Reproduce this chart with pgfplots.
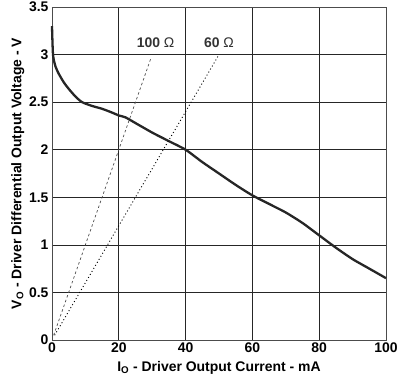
\documentclass[border=0pt]{standalone}
\usepackage{fontspec}
\setmainfont{Liberation Sans}
\usepackage{pgfplots}
\pgfplotsset{compat=1.18}
\begin{document}
\begin{tikzpicture}
\useasboundingbox (-52bp,-45bp) rectangle (355bp,340bp);
\begin{axis}[
  at={(0,0)}, anchor=south west,
  scale only axis, width=334bp, height=333bp,
  xmin=0, xmax=100, ymin=0, ymax=3.5,
  xtick={0,20,40,60,80,100},
  xticklabels={0,20,40,60,80,100},
  ytick={0,0.5,1,1.5,2,2.5,3,3.5},
  yticklabels={0,0.5,1,1.5,2,2.5,3,3.5},
  grid=major,
  major grid style={black!85, line width=0.7bp},
  major tick length=0pt,
  axis line style={black!70, line width=0.8bp},
  every tick label/.append style={font=\fontsize{14}{16}\selectfont\bfseries},
  xticklabel style={yshift=1bp},
  label style={font=\fontsize{14}{16}\selectfont\bfseries},
  xlabel={I\textsubscript{O} - Driver Output Current - mA},
  ylabel={V\textsubscript{O} - Driver Differential Output Voltage - V},
  xlabel style={yshift=-2bp},
  ylabel style={yshift=-2bp},
  clip=false,
]
\addplot[black!85, line width=2.3bp, smooth, tension=0.4] coordinates {
(0,3.3) (0.3,3.0) (1,2.88) (2,2.80) (3.5,2.71) (5,2.64) (7,2.56) (9,2.50) (12,2.46) (15,2.43) (18,2.39)
(20,2.36) (22,2.34) (25,2.28) (30,2.18) (35,2.09) (40,2.00) (45,1.87) (50,1.75) (55,1.63)
(60,1.52) (65,1.43) (70,1.34) (75,1.23) (80,1.10) (85,0.97) (90,0.85) (95,0.75) (100,0.65)
};
\addplot[black!70, line width=0.7bp, dash pattern=on 2.5bp off 2.5bp] coordinates {(0.5,0.05) (29.5,2.95)};
\addplot[black, line width=0.9bp, dash pattern=on 1bp off 2.5bp] coordinates {(0.8,0.05) (50,3.0)};
\node[font=\fontsize{14}{16}\selectfont\bfseries, text=black!80] at (axis cs:31,3.13) {100 {\mdseries Ω}};
\node[font=\fontsize{14}{16}\selectfont\bfseries, text=black!80] at (axis cs:50,3.13) {60 {\mdseries Ω}};
\end{axis}
\end{tikzpicture}
\end{document}
